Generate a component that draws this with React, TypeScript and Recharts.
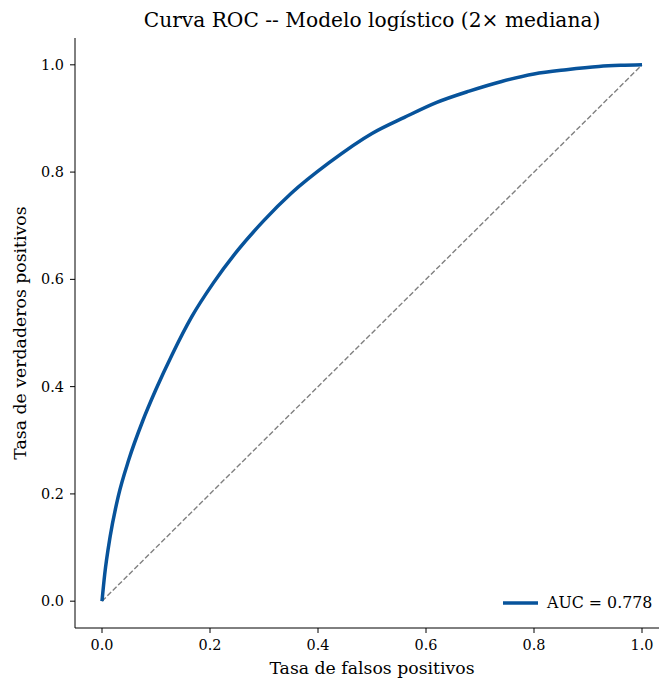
import { LineChart, Line, XAxis, YAxis, Legend, Label } from "recharts";

// ROC curve (false positive rate / true positive rate)
const FPR = [0, 0.005, 0.015, 0.03, 0.05, 0.075, 0.1, 0.13, 0.166, 0.206, 0.252, 0.3, 0.35, 0.42, 0.5, 0.56, 0.62, 0.68, 0.74, 0.8, 0.86, 0.92, 0.96, 1.0];
const TPR = [0, 0.05, 0.12, 0.195, 0.265, 0.335, 0.395, 0.46, 0.53, 0.593, 0.655, 0.71, 0.76, 0.817, 0.872, 0.902, 0.93, 0.951, 0.969, 0.983, 0.991, 0.997, 0.999, 1.0];
const CHANCE = [0, 1];
const TICKS = [0, 0.2, 0.4, 0.6, 0.8, 1.0];
const AUC = 0.778;

const rocData = FPR.map((x, i) => ({ x, y: TPR[i] }));
const chanceData = CHANCE.map((v) => ({ x: v, y: v }));

const FONT = "'DejaVu Serif', serif";
const BLUE = "#07539b";

function LegendBox() {
  return (
    <div style={{ display: "flex", alignItems: "center", fontFamily: FONT, fontSize: 15.8, color: "#000", whiteSpace: "nowrap" }}>
      <svg width={35} height={6} style={{ marginRight: 9 }}>
        <line x1={0} y1={3} x2={35} y2={3} stroke={BLUE} strokeWidth={3.5} />
      </svg>
      <span>AUC = {AUC.toFixed(3)}</span>
    </div>
  );
}

export default function App() {
  const tickStyle = { fontSize: 14.4, fill: "#000", fontFamily: FONT };
  const labelStyle = { fontSize: 17.3, fill: "#000", fontFamily: FONT };
  return (
    <div style={{ position: "absolute", left: 0, top: 0, width: 659, height: 680, overflow: "hidden", background: "#fff" }}>
      <div
        style={{
          position: "absolute",
          left: 75,
          width: 594,
          top: 8,
          textAlign: "center",
          fontFamily: FONT,
          fontSize: 20.2,
          lineHeight: "24px",
          color: "#000",
          whiteSpace: "nowrap",
        }}
      >
        Curva ROC -- Modelo logístico (2× mediana)
      </div>
      <LineChart width={669} height={680} margin={{ top: 38, right: 0, bottom: 0, left: 0 }}>
        <XAxis
          type="number"
          dataKey="x"
          domain={[-0.05, 1.05]}
          ticks={TICKS}
          tickFormatter={(v: number) => v.toFixed(1)}
          height={52}
          tick={tickStyle}
          tickSize={5}
          tickMargin={7}
          stroke="#000"
          allowDataOverflow
        >
          <Label value="Tasa de falsos positivos" position="insideBottom" offset={6} style={labelStyle} />
        </XAxis>
        <YAxis
          type="number"
          dataKey="y"
          domain={[-0.05, 1.05]}
          ticks={TICKS}
          tickFormatter={(v: number) => v.toFixed(1)}
          width={75}
          tick={tickStyle}
          tickSize={5}
          tickMargin={6}
          stroke="#000"
          allowDataOverflow
        >
          <Label
            value="Tasa de verdaderos positivos"
            angle={-90}
            position="insideLeft"
            offset={20}
            style={{ ...labelStyle, textAnchor: "middle" }}
          />
        </YAxis>
        <Line
          data={chanceData}
          dataKey="y"
          stroke="#808080"
          strokeWidth={1.4}
          strokeDasharray="5.3 2.3"
          dot={false}
          legendType="none"
          isAnimationActive={false}
        />
        <Line
          data={rocData}
          dataKey="y"
          name={`AUC = ${AUC.toFixed(3)}`}
          type="monotone"
          stroke={BLUE}
          strokeWidth={3.5}
          dot={false}
          isAnimationActive={false}
        />
        <Legend
          layout="vertical"
          align="center"
          verticalAlign="middle"
          content={() => <LegendBox />}
          wrapperStyle={{ left: 503, top: 593, width: 156 }}
        />
      </LineChart>
    </div>
  );
}
